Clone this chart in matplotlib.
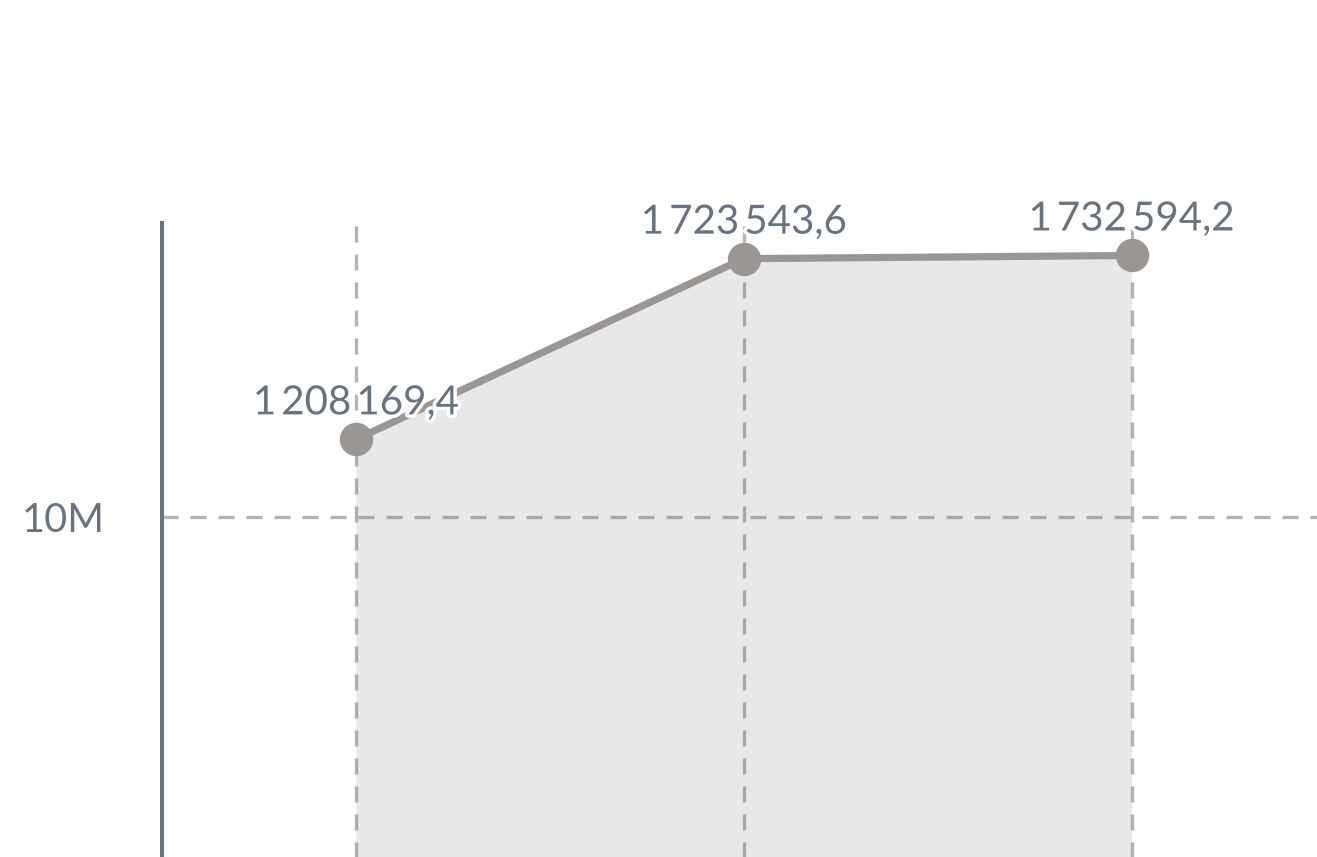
import matplotlib
matplotlib.use("Agg")
import matplotlib.pyplot as plt
import matplotlib.patheffects as pe

# ---- data ----
categories = ["A", "B", "C"]
values = [1208169.4, 1723543.6, 1732594.2]
ytick_values = [986500]
ytick_labels = ["10M"]
y_limits = (0, 1824100)

plt.rcParams['font.family'] = ['Lato', 'DejaVu Sans']

TEXT = "#68737e"
LINE = "#9a9694"
FILL = "#e8e8e8"
AXIS = "#6b737c"
FS = 29

def fmt(v):
    s = f"{v:,.1f}"
    return s.replace(",", "\u2009").replace(".", ",")

fig = plt.figure(figsize=(13.17, 8.57), dpi=100)
ax = fig.add_axes([162 / 1317, -6 / 857, 1163.4 / 1317, 639.6 / 857])

x = list(range(len(categories)))
ax.fill_between(x, values, 0, color=FILL, linewidth=0, zorder=1)
ax.plot(x, values, color=LINE, linewidth=5.2, zorder=4, solid_capstyle='round')
ax.plot(x, values, 'o', color=LINE, markersize=23, zorder=5)

ax.set_xlim(-0.5, len(categories) - 0.5)
ax.set_ylim(*y_limits)
ax.set_xticks(x)
ax.set_xticklabels(categories)
ax.tick_params(axis='x', length=0, labelbottom=False)
ax.set_yticks(ytick_values)
ax.set_yticklabels(ytick_labels)
ax.tick_params(axis='y', length=0, pad=41.5, labelsize=FS - 0.5, labelcolor=TEXT)

ax.grid(True, color="#6c7079", alpha=0.52, linewidth=2.4,
        linestyle=(0, (4.8, 3.6)), zorder=2)
ax.set_axisbelow(False)
for s in ['top', 'right', 'bottom']:
    ax.spines[s].set_visible(False)
ax.spines['left'].set_color(AXIS)
ax.spines['left'].set_linewidth(2.9)
ax.spines['left'].set_zorder(3)

for xi, v in zip(x, values):
    ax.annotate(fmt(v), (xi, v), xytext=(0, 18), textcoords='offset points',
                ha='center', va='baseline', fontsize=FS, color=TEXT, zorder=6,
                path_effects=[pe.withStroke(linewidth=5, foreground='white')])

fig.savefig("out.png", dpi=100)
